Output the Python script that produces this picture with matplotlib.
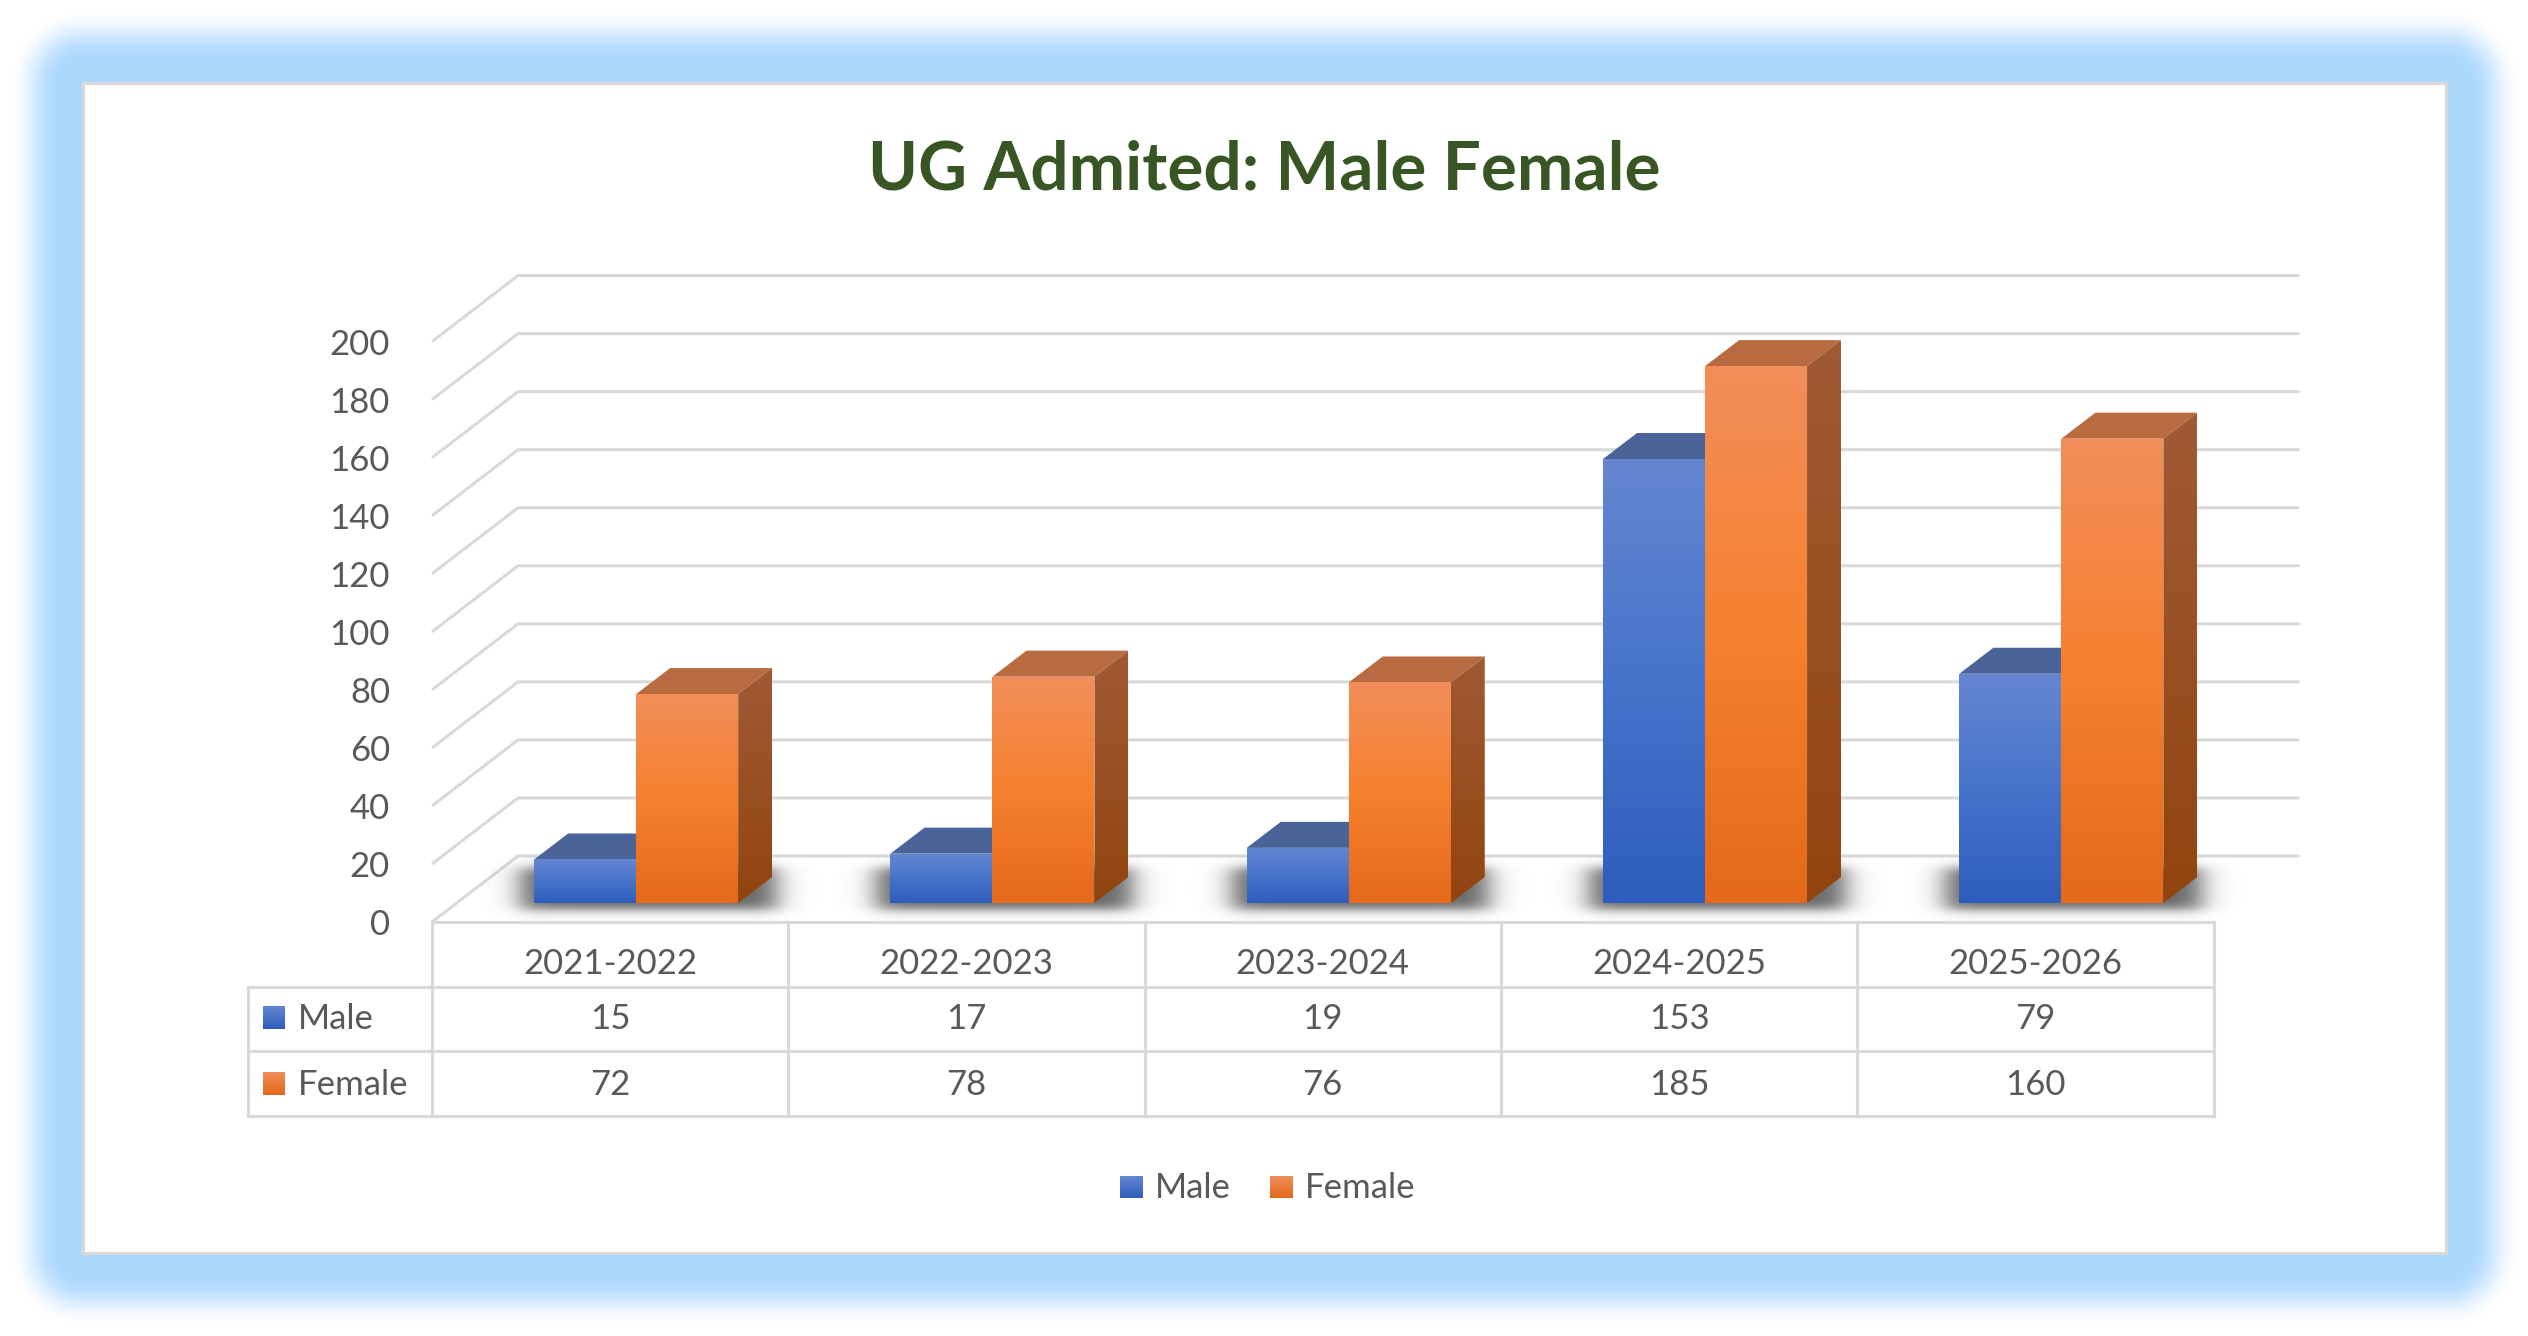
import numpy as np
import matplotlib
matplotlib.use('Agg')
import matplotlib.pyplot as plt
from matplotlib.patches import Polygon, Rectangle
from matplotlib.colors import LinearSegmentedColormap
from matplotlib.transforms import offset_copy

# data
years = ['2021-2022', '2022-2023', '2023-2024', '2024-2025', '2025-2026']
male = [15, 17, 19, 153, 79]
female = [72, 78, 76, 185, 160]
yticks = [0, 20, 40, 60, 80, 100, 120, 140, 160, 180, 200]
names = ['Male', 'Female']
title = 'UG Admited: Male Female'

plt.rcParams['font.family'] = ['Lato', 'DejaVu Sans']
grey = '#595959'
gline = '#D9D9D9'
FS = 25

male_front = ['#6586D1', '#4674CA', '#2D5EBD']
male_side = ['#3A5A9E', '#27478A']
male_top = '#4A6398'
fem_front = ['#F28E5A', '#F6812E', '#E4691A']
fem_side = ['#A05A34', '#92440F']
fem_top = '#B86B40'

W, H = 2528, 1336
fig = plt.figure(figsize=(W / 100, H / 100), dpi=100)
fig.patch.set_facecolor('white')


def rect(l, t, r, b):
    return [l / W, 1 - b / H, (r - l) / W, (b - t) / H]


def grad_poly(a, verts, cols, z):
    p = Polygon(verts, closed=True, fc='none', ec='none', zorder=z)
    a.add_patch(p)
    xs, ys = zip(*verts)
    cm = LinearSegmentedColormap.from_list('g', cols)
    im = a.imshow(np.linspace(1, 0, 128).reshape(-1, 1), cmap=cm, vmin=0, vmax=1,
                  extent=[min(xs), max(xs), min(ys), max(ys)], origin='lower',
                  aspect='auto', zorder=z, interpolation='bilinear')
    im.set_clip_path(p)


def soft_box(a, x0, x1, y0, y1, sx, sy, alpha, z):
    # blurred box used as the soft shadow under a pair of bars
    xe0, xe1 = x0 - 3 * sx, x1 + 3 * sx
    ye0, ye1 = y0 - 3 * sy, y1 + 3 * sy
    xs = np.linspace(xe0, xe1, 240)
    ys = np.linspace(ye0, ye1, 120)
    fx = 0.5 * (np.tanh((xs - x0) / sx) - np.tanh((xs - x1) / sx))
    fy = 0.5 * (np.tanh((ys - y0) / sy) - np.tanh((ys - y1) / sy))
    img = np.zeros((120, 240, 4))
    img[..., :3] = 0.25
    img[..., 3] = np.outer(fy, fx) * alpha
    a.imshow(img, extent=[xe0, xe1, ye0, ye1], origin='lower', aspect='auto',
             zorder=z, interpolation='bilinear')


# background with blue glow and white panel
bg = fig.add_axes([0, 0, 1, 1])
bg.axis('off')
yy, xx = np.mgrid[0:H, 0:W] + 0.5
ddx = np.maximum(np.maximum(83 - xx, xx - 2446), 0)
ddy = np.maximum(np.maximum(83 - yy, yy - 1253), 0)
d = np.hypot(ddx, ddy)
al = np.clip((74 - d) / 50, 0, 1)
al = al * al * (3 - 2 * al)
glow = np.zeros((H, W, 4))
glow[..., 0] = 173 / 255
glow[..., 1] = 216 / 255
glow[..., 2] = 254 / 255
glow[..., 3] = al
bg.imshow(glow, extent=[0, W, H, 0], interpolation='nearest', zorder=0)
bg.add_patch(Rectangle((83, 83), 2363, 1170, fc='white', ec=gline, lw=2.2, zorder=1))
bg.text(1264, 190, title, ha='center', va='baseline', fontsize=48.5,
        fontweight='bold', color='#375623', zorder=3)

# legend
leg_cols = [[male_front[0], male_front[2]], [fem_front[0], fem_front[2]]]
for k, sx in enumerate([1120, 1270]):
    cm = LinearSegmentedColormap.from_list('l', leg_cols[k])
    bg.imshow(np.linspace(0, 1, 64).reshape(-1, 1), cmap=cm, vmin=0, vmax=1,
              extent=[sx, sx + 23, 1198, 1176], aspect='auto', zorder=2)
    bg.text(sx + 35, 1198, names[k], ha='left', va='baseline', fontsize=FS, color=grey, zorder=3)
bg.set_xlim(0, W)
bg.set_ylim(H, 0)

# chart axes (x in category units, y in value units)
X0, CW, Y0, PU = 432, 356.3, 922, 2.902
n = len(years)
ax = fig.add_axes(rect(200, 250, 2400, 960))
ax.axis('off')
ax.set_autoscale_on(False)
xl = ((200 - X0) / CW, (2400 - X0) / CW)
ax.set_xlim(*xl)
ax.set_ylim((Y0 - 960) / PU, (Y0 - 250) / PU)

DX, DY = 86 / CW, 66 / PU
w = 102 / CW
off_x, off_y = 26 / CW, 19 / PU
bdx, bdy = 34 / CW, 26 / PU

lab_tr = offset_copy(ax.transData, fig, y=-13, units='dots')
for v in yticks:
    ax.plot([0, DX, n + DX], [v, v + DY, v + DY], color=gline, lw=2.2, zorder=1,
            solid_capstyle='butt', clip_on=False)
    ax.text(-42 / CW, v, str(v), transform=lab_tr, ha='right', va='baseline',
            fontsize=FS, color=grey)

z = 5
for i in range(n):
    xm = i + 0.5 + off_x - w
    xf = i + 0.5 + off_x
    yb = off_y
    soft_box(ax, xm - 0.04, xf + w + bdx + 0.01, yb - 2.5, yb + 12, 0.045, 2.2, 0.8, 2)
    for x0, v, fc, sc, tc in [(xm, male[i], male_front, male_side, male_top),
                              (xf, female[i], fem_front, fem_side, fem_top)]:
        yt = yb + v
        ax.add_patch(Polygon([(x0, yt), (x0 + w, yt), (x0 + w + bdx, yt + bdy), (x0 + bdx, yt + bdy)],
                             closed=True, fc=tc, ec='none', zorder=z))
        grad_poly(ax, [(x0 + w, yb), (x0 + w + bdx, yb + bdy), (x0 + w + bdx, yt + bdy), (x0 + w, yt)], sc, z + 1)
        grad_poly(ax, [(x0, yb), (x0 + w, yb), (x0 + w, yt), (x0, yt)], fc, z + 2)
        z += 3
ax.set_xlim(*xl)
ax.set_ylim((Y0 - 960) / PU, (Y0 - 250) / PU)

# data table
tx = fig.add_axes(rect(200, 922, 2400, 1116))
tx.axis('off')
tx.set_autoscale_on(False)
lab_l = (248 - X0) / CW
kw = dict(color=gline, lw=2.2, solid_capstyle='projecting', clip_on=False)
tx.plot([0, n], [3, 3], **kw)
for r in [0, 1, 2]:
    tx.plot([lab_l, n], [r, r], **kw)
for c in range(n + 1):
    tx.plot([c, c], [0, 3], **kw)
tx.plot([lab_l, lab_l], [0, 2], **kw)

rows = [male, female]
base = [1.34, 0.33]
for i, yr in enumerate(years):
    tx.text(i + 0.5, 2.2, yr, ha='center', va='baseline', fontsize=FS, color=grey)
    for r in range(2):
        tx.text(i + 0.5, base[r], str(rows[r][i]), ha='center', va='baseline', fontsize=FS, color=grey)
sq0, sq1 = (263 - X0) / CW, (285 - X0) / CW
for r in range(2):
    cols = [leg_cols[r][0], leg_cols[r][1]]
    grad_poly(tx, [(sq0, base[r]), (sq1, base[r]), (sq1, base[r] + 0.355), (sq0, base[r] + 0.355)], cols, 3)
    tx.text((298 - X0) / CW, base[r], names[r], ha='left', va='baseline', fontsize=FS, color=grey)
tx.set_xlim(*xl)
tx.set_ylim(0, 3)

fig.savefig('out.png', dpi=100, facecolor='white')
